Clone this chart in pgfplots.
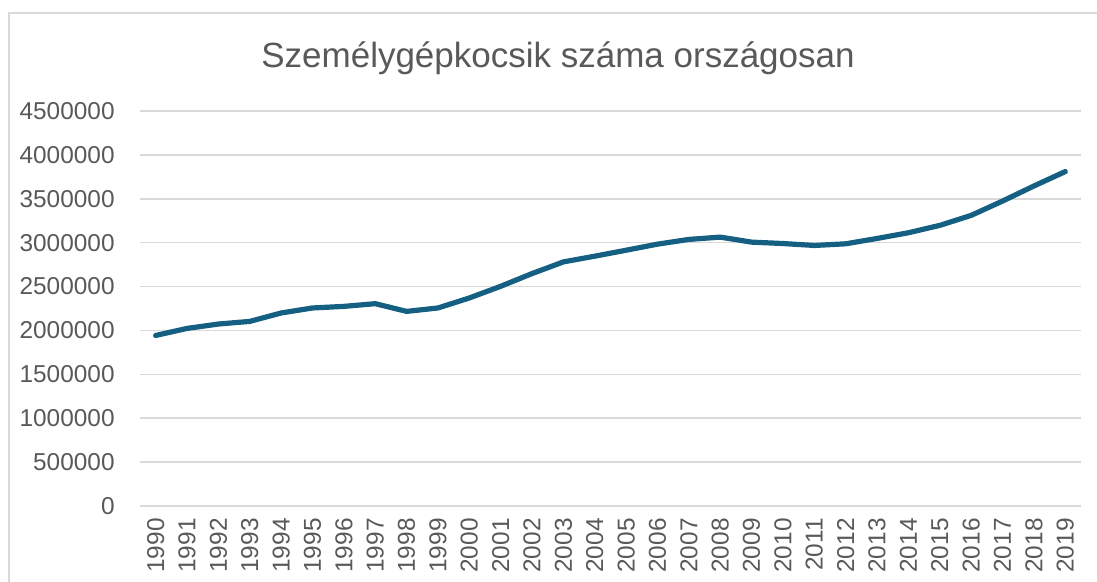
\documentclass[border=0pt]{standalone}
\usepackage{pgfplots}
\pgfplotsset{compat=1.18}
\usepackage{fontspec}
\setmainfont{Liberation Sans}
\definecolor{linecol}{HTML}{156082}
\definecolor{txt}{HTML}{595959}
\definecolor{gridc}{HTML}{D9D9D9}
\begin{document}
\begin{tikzpicture}
% 1 px of the reference = 0.5pt
\useasboundingbox (0pt,0pt) rectangle (548.5pt,291pt);
\draw[gridc, line width=0.6pt] (4.5pt,-10pt) rectangle (560pt,284.5pt);
\node[txt, font=\fontsize{17.5}{20}\selectfont] at (279pt,262pt) {Személygépkocsik száma országosan};
\begin{axis}[
    at={(70pt,38pt)}, anchor=south west,
    scale only axis, width=470.5pt, height=197.5pt,
    xmin=1989.5, xmax=2019.5,
    ymin=0, ymax=4500000,
    xtick={1990,...,2019},
    ytick={0,500000,...,4500000},
    scaled ticks=false,
    /pgf/number format/.cd, fixed, 1000 sep={}, assume math mode=true, /pgfplots/.cd,
    axis line style={draw=none},
    axis x line*=bottom,
    major tick length=0pt,
    ymajorgrids, grid style={gridc, line width=0.75pt},
    tick label style={txt, font=\fontsize{12.2}{14}\selectfont, inner sep=0pt},
    xticklabel style={rotate=90, anchor=east},
    xticklabel shift=6pt,
    yticklabel shift=12.5pt,
    clip=false,
]
\addplot[linecol, line width=2.6pt, line join=round, line cap=round] coordinates {
(1990,1943000) (1991,2023000) (1992,2073000) (1993,2103000) (1994,2199000)
(1995,2256000) (1996,2274000) (1997,2305000) (1998,2217000) (1999,2256000)
(2000,2370000) (2001,2503000) (2002,2648000) (2003,2781000) (2004,2846000)
(2005,2914000) (2006,2983000) (2007,3037000) (2008,3063000) (2009,3006000)
(2010,2990000) (2011,2968000) (2012,2987000) (2013,3048000) (2014,3113000)
(2015,3197000) (2016,3311000) (2017,3474000) (2018,3646000) (2019,3810000)
};
\end{axis}
\end{tikzpicture}
\end{document}
